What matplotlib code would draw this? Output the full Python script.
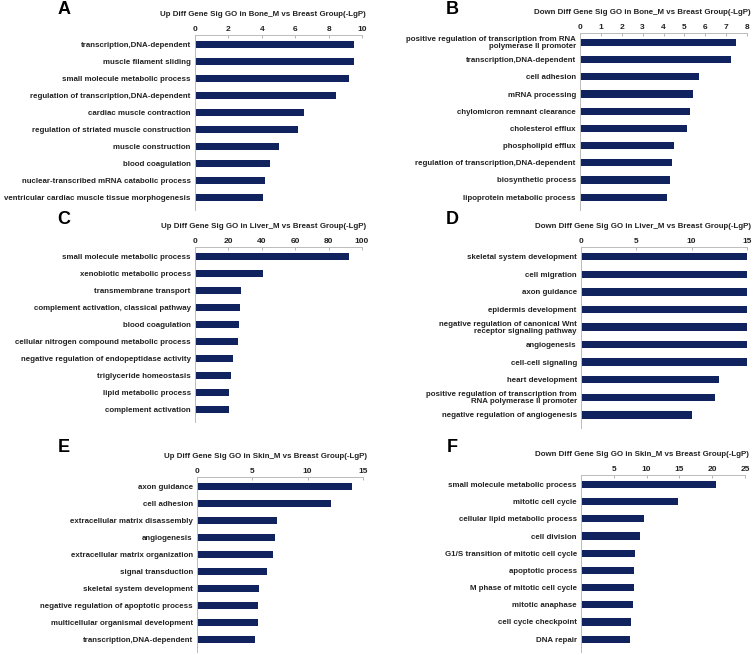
import numpy as np
import matplotlib
matplotlib.use('Agg')
import matplotlib.pyplot as plt

plt.rcParams['font.family'] = ['Liberation Sans', 'DejaVu Sans']

W, H = 753, 655
BAR_COLOR = '#10235e'

# ── data ──
a_terms = ['transcription,DNA-dependent', 'muscle filament sliding',
           'small molecule metabolic process', 'regulation of transcription,DNA-dependent',
           'cardiac muscle contraction', 'regulation of striated muscle construction',
           'muscle construction', 'blood coagulation',
           'nuclear-transcribed mRNA catabolic process',
           'ventricular cardiac muscle tissue morphogenesis']
a_vals = [9.55, 9.55, 9.25, 8.45, 6.5, 6.15, 5.05, 4.5, 4.2, 4.05]
a_ticks = [0, 2, 4, 6, 8, 10]

b_terms = ['positive regulation of transcription from RNA\npolymerase II promoter',
           'transcription,DNA-dependent', 'cell adhesion', 'mRNA processing',
           'chylomicron remnant clearance', 'cholesterol efflux', 'phospholipid efflux',
           'regulation of transcription,DNA-dependent', 'biosynthetic process',
           'lipoprotein metabolic process']
b_vals = [7.46, 7.24, 5.68, 5.42, 5.26, 5.14, 4.48, 4.39, 4.33, 4.16]
b_ticks = [0, 1, 2, 3, 4, 5, 6, 7, 8]

c_terms = ['small molecule metabolic process', 'xenobiotic metabolic process',
           'transmembrane transport', 'complement activation, classical pathway',
           'blood coagulation', 'cellular nitrogen compound metabolic process',
           'negative regulation of endopeptidase activity', 'triglyceride homeostasis',
           'lipid metabolic process', 'complement activation']
c_vals = [92.5, 40.7, 27.8, 26.8, 26.2, 25.8, 22.5, 21.5, 20.6, 20.5]
c_ticks = [0, 20, 40, 60, 80, 100]

d_terms = ['skeletal system development', 'cell migration', 'axon guidance',
           'epidermis development',
           'negative regulation of canonical Wnt\nreceptor signaling pathway',
           'angiogenesis', 'cell-cell signaling', 'heart development',
           'positive regulation of transcription from\nRNA polymerase II promoter',
           'negative regulation of angiogenesis']
d_vals = [15, 15, 15, 15, 15, 15, 15, 12.5, 12.1, 10.05]
d_ticks = [0, 5, 10, 15]

e_terms = ['axon guidance', 'cell adhesion', 'extracellular matrix disassembly',
           'angiogenesis', 'extracellular matrix organization', 'signal transduction',
           'skeletal system development', 'negative regulation of apoptotic process',
           'multicellular organismal development', 'transcription,DNA-dependent']
e_vals = [14.05, 12.1, 7.2, 7.05, 6.85, 6.35, 5.6, 5.55, 5.5, 5.2]
e_ticks = [0, 5, 10, 15]

f_terms = ['small molecule metabolic process', 'mitotic cell cycle',
           'cellular lipid metabolic process', 'cell division',
           'G1/S transition of mitotic cell cycle', 'apoptotic process',
           'M phase of mitotic cell cycle', 'mitotic anaphase',
           'cell cycle checkpoint', 'DNA repair']
f_vals = [20.6, 14.85, 9.55, 9.05, 8.3, 8.15, 8.15, 7.95, 7.65, 7.45]
f_ticks = [5, 10, 15, 20, 25]

panels = [
    ('A', 'Up Diff Gene Sig GO in Bone_M vs Breast Group(-LgP)', a_terms, a_vals, a_ticks, 10,
     (195, 362, 35, 210), (64, 10)),
    ('B', 'Down Diff Gene Sig GO in Bone_M vs Breast Group(-LgP)', b_terms, b_vals, b_ticks, 8,
     (580, 747, 33, 210), (452, 10)),
    ('C', 'Up Diff Gene Sig GO in Liver_M vs Breast Group(-LgP)', c_terms, c_vals, c_ticks, 100,
     (195, 362, 247, 422), (64, 219)),
    ('D', 'Down Diff Gene Sig GO in Liver_M vs Breast Group(-LgP)', d_terms, d_vals, d_ticks, 15,
     (581, 747, 247, 428), (452, 219)),
    ('E', 'Up Diff Gene Sig GO in Skin_M vs Breast Group(-LgP)', e_terms, e_vals, e_ticks, 15,
     (197, 363, 477, 652), (64, 447)),
    ('F', 'Down Diff Gene Sig GO in Skin_M vs Breast Group(-LgP)', f_terms, f_vals, f_ticks, 25,
     (581, 745, 475, 652), (452, 447)),
]

fig = plt.figure(figsize=(W / 100, H / 100), dpi=100)

for letter, title, terms, vals, ticks, xmax, (x0, x1, yt, yb), (lx, ly) in panels:
    ax = fig.add_axes([x0 / W, 1 - yb / H, (x1 - x0) / W, (yb - yt) / H])
    y = np.arange(len(terms))
    ax.barh(y, vals, height=0.42, color=BAR_COLOR)
    ax.set_xlim(0, xmax)
    ax.set_ylim(9.75, -0.55)
    ax.xaxis.tick_top()
    ax.set_xticks(ticks)
    ax.set_xticklabels([str(t) for t in ticks], fontsize=6, fontweight='bold', color='#222222')
    ax.tick_params(axis='x', direction='in', length=2.5, width=0.6, color='#aaaaaa', pad=1.5)
    ax.set_yticks(y)
    ax.set_yticklabels(terms, fontsize=5.7, fontweight='bold', color='#222222',
                       multialignment='right', linespacing=1.0)
    ax.tick_params(axis='y', length=0, pad=3)
    for s in ['right', 'bottom']:
        ax.spines[s].set_visible(False)
    for s in ['left', 'top']:
        ax.spines[s].set_color('#bbbbbb')
        ax.spines[s].set_linewidth(0.7)
    fig.text((x1 + 4) / W, 1 - (yt - 20) / H, title, ha='right', va='center',
             fontsize=5.7, fontweight='bold', color='#222222')
    fig.text(lx / W, 1 - ly / H, letter, ha='center', va='center',
             fontsize=13, fontweight='bold', color='black')

plt.savefig('out.png', dpi=100)
plt.close()
